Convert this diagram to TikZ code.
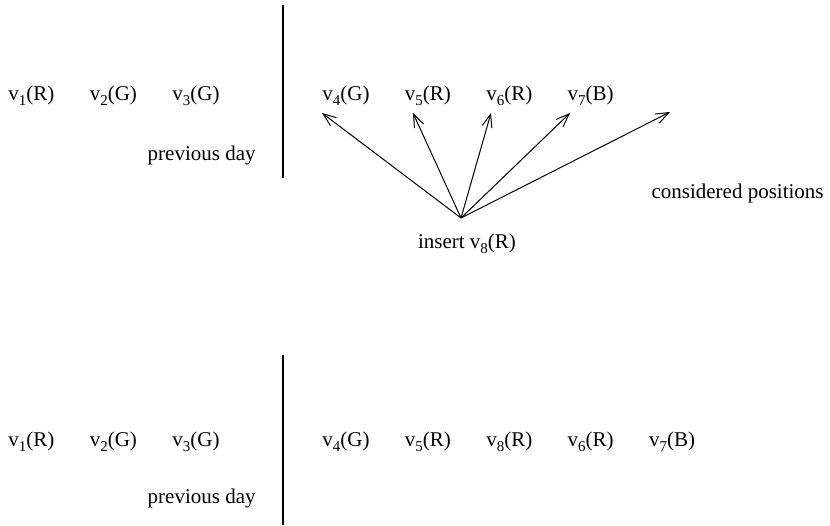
\documentclass[tikz,border=0pt]{standalone}
\usepackage{fontspec}
\setmainfont{Liberation Serif}
\usetikzlibrary{arrows.meta,positioning}
\newcommand{\vtxname}[2]{v\raisebox{-2.8pt}{\fontsize{7.5}{8}\selectfont #1}(#2)}
\tikzset{
    vtx/.style={
        inner sep=0pt,
        anchor=base west,
        font=\fontsize{10.5}{12}\selectfont
    },
    lbl/.style={
        inner sep=0pt,
        font=\fontsize{10.5}{12}\selectfont
    },
    divider/.style={
        line width=1pt
    },
    arrow/.style={
        -{Straight Barb[length=6.5pt,width=5pt]},
        line width=0.5pt
    }
}

\begin{document}
\begin{tikzpicture}[x=0.5pt, y=-0.5pt, node distance=17.3pt]
\useasboundingbox (0,0) rectangle (830,525);

% before insertion
\node[vtx] (a1) at (8,100) {\vtxname{1}{R}};
\node[vtx, base right=of a1] (a2) {\vtxname{2}{G}};
\node[vtx, base right=of a2] (a3) {\vtxname{3}{G}};
\node[lbl, anchor=base east] (prevA) at (256,160) {previous day};

\coordinate (topA) at (283,5);
\coordinate (botA) at (283,178);
\draw[divider] (topA) -- (botA);

\node[vtx] (a4) at (322,100) {\vtxname{4}{G}};
\node[vtx, base right=of a4] (a5) {\vtxname{5}{R}};
\node[vtx, base right=of a5] (a6) {\vtxname{6}{R}};
\node[vtx, base right=of a6] (a7) {\vtxname{7}{B}};

\node[lbl, anchor=base] (ins) at (467,248) {insert \vtxname{8}{R}};
\node[lbl, anchor=base east] (cons) at (824,198) {considered positions};

\coordinate (src) at (461,218);
\coordinate (t4) at (322,113);
\coordinate (t5) at (413,113);
\coordinate (t6) at (491,113);
\coordinate (t7) at (570,113);
\coordinate (t8) at (670,112);
\draw[arrow] (src) -- (t4);
\draw[arrow] (src) -- (t5);
\draw[arrow] (src) -- (t6);
\draw[arrow] (src) -- (t7);
\draw[arrow] (src) -- (t8);

% after insertion
\node[vtx] (b1) at (8,446) {\vtxname{1}{R}};
\node[vtx, base right=of b1] (b2) {\vtxname{2}{G}};
\node[vtx, base right=of b2] (b3) {\vtxname{3}{G}};
\node[lbl, anchor=base east] (prevB) at (256,503) {previous day};

\coordinate (topB) at (283,355);
\coordinate (botB) at (283,525);
\draw[divider] (topB) -- (botB);

\node[vtx] (b4) at (322,446) {\vtxname{4}{G}};
\node[vtx, base right=of b4] (b5) {\vtxname{5}{R}};
\node[vtx, base right=of b5] (b8) {\vtxname{8}{R}};
\node[vtx, base right=of b8] (b6) {\vtxname{6}{R}};
\node[vtx, base right=of b6] (b7) {\vtxname{7}{B}};

\end{tikzpicture}
\end{document}
